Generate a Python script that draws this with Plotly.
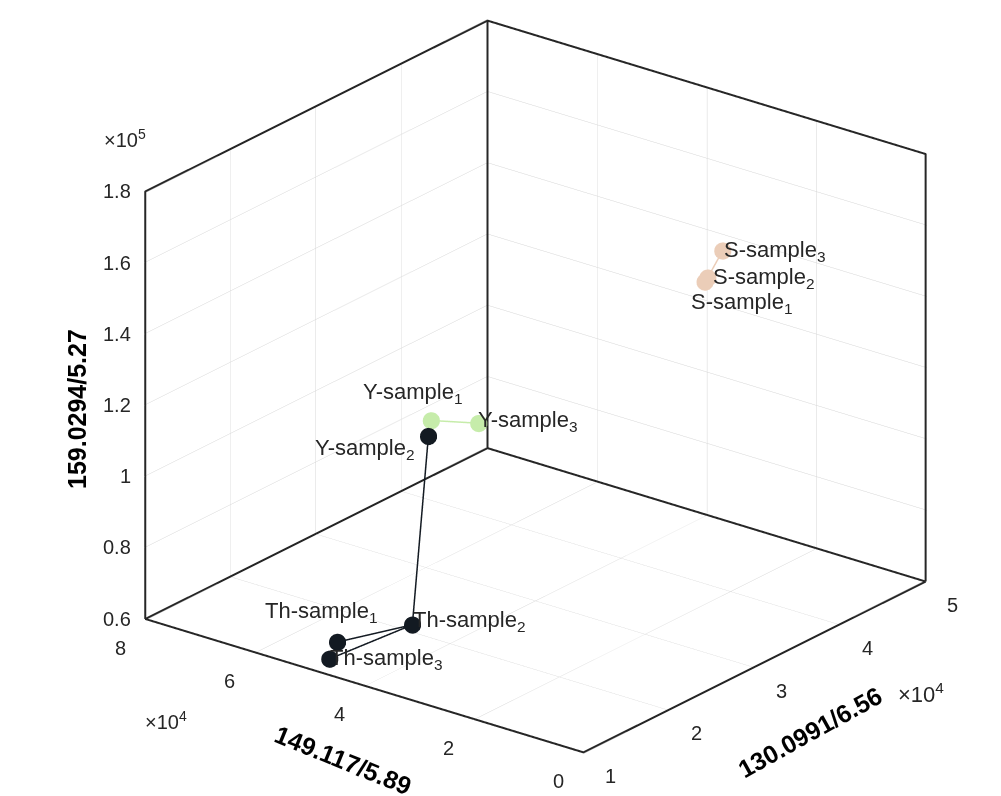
import plotly.graph_objects as go

# ---- data ----
th_names = ["Th-sample<sub>1</sub>", "Th-sample<sub>2</sub>", "Th-sample<sub>3</sub>"]
th_x = [11000, 15800, 10800]
th_y = [46500, 40300, 47600]
th_z = [68000, 70000, 63000]

y_names = ["Y-sample<sub>1</sub>", "Y-sample<sub>3</sub>"]
y_x = [30800, 32500]
y_y = [60300, 54300]
y_z = [100000, 100000]

y2_name = "Y-sample<sub>2</sub>"
y2_x = [25800]
y2_y = [53000]
y2_z = [105000]

s_names = ["S-sample<sub>1</sub>", "S-sample<sub>2</sub>", "S-sample<sub>3</sub>"]
s_x = [37700, 37900, 39900]
s_y = [21100, 20900, 21300]
s_z = [149000, 150000, 155000]

x_range = [10000, 50000]
y_range = [0, 80000]
z_range = [60000, 180000]
x_ticks = [10000, 20000, 30000, 40000, 50000]
x_ticktext = ["1", "2", "3", "4", "5"]
y_ticks = [0, 20000, 40000, 60000, 80000]
y_ticktext = ["0", "2", "4", "6", "8"]
z_ticks = [60000, 80000, 100000, 120000, 140000, 160000, 180000]
z_ticktext = ["0.6", "0.8", "1", "1.2", "1.4", "1.6", "1.8"]

# label pixel offsets (xshift, yshift)
th_shift = [(-74, 30), (-1, 3), (-2, 0)]
y_shift = [(-70, 27), (-3, 2)]
y2_shift = (-115, -13)
s_shift = [(-16, -21), (3, 0), (-1, 0)]

BLACK = "#131a22"
GREEN = "#c6ecaa"
PEACH = "#ebcdb8"
TXT = "#262626"
FONT = "Liberation Sans, Arial, sans-serif"
LBL = 22
TICK = 20
K = 1.493

fig = go.Figure()
fig.add_trace(go.Scatter3d(x=th_x, y=th_y, z=th_z, mode="lines+markers",
                           line=dict(color=BLACK, width=3),
                           marker=dict(color=BLACK, size=10, line=dict(width=0))))
fig.add_trace(go.Scatter3d(x=[th_x[1], y2_x[0]], y=[th_y[1], y2_y[0]], z=[th_z[1], y2_z[0]],
                           mode="lines+markers", line=dict(color=BLACK, width=3),
                           marker=dict(color=BLACK, size=10, line=dict(width=0))))
fig.add_trace(go.Scatter3d(x=y_x, y=y_y, z=y_z, mode="lines+markers",
                           line=dict(color=GREEN, width=3),
                           marker=dict(color=GREEN, size=10, line=dict(width=0))))
fig.add_trace(go.Scatter3d(x=s_x, y=s_y, z=s_z, mode="lines+markers",
                           line=dict(color=PEACH, width=3),
                           marker=dict(color=PEACH, size=10, line=dict(width=0))))

# box frame edges (from the axis ranges)
x0, x1 = x_range
y0, y1 = y_range
z0, z1 = z_range
fx = [x0, x0, x1, x1, x1, None, x1, x0, x0, x1, x1, None, x1, x1]
fy = [y1, y1, y1, y0, y0, None, y0, y0, y1, y1, y0, None, y1, y1]
fz = [z0, z1, z1, z1, z0, None, z0, z0, z0, z0, z0, None, z0, z1]
fig.add_trace(go.Scatter3d(x=fx, y=fy, z=fz, mode="lines",
                           line=dict(color=TXT, width=4), hoverinfo="skip"))

annots = []
def add_labels(names, xs, ys, zs, shifts, size=LBL, anchor="left"):
    for n, a, b, c, sh in zip(names, xs, ys, zs, shifts):
        annots.append(dict(x=a, y=b, z=c, text=n, showarrow=False, xanchor=anchor,
                           yanchor="middle", xshift=sh[0], yshift=sh[1],
                           font=dict(family=FONT, size=size, color=TXT)))

add_labels(th_names, th_x, th_y, th_z, th_shift)
add_labels(y_names, y_x, y_y, y_z, y_shift)
add_labels([y2_name], y2_x, y2_y, y2_z, [y2_shift])
add_labels(s_names, s_x, s_y, s_z, s_shift)

# tick labels, screen-aligned, positioned at the ticks in data space
add_labels(x_ticktext, x_ticks, [y0] * len(x_ticks), [z0] * len(x_ticks),
           [(27, -24)] * len(x_ticks), TICK, "center")
add_labels(y_ticktext, [x0] * len(y_ticks), y_ticks, [z0] * len(y_ticks),
           [(-25, -29)] * len(y_ticks), TICK, "center")
add_labels(z_ticktext, [x0] * len(z_ticks), [y1] * len(z_ticks), z_ticks,
           [(-12, 0)] * len(z_ticks), TICK, "right")

def padded(r, f=0.0015):
    d = (r[1] - r[0]) * f
    return [r[0] - d, r[1] + d]

axis_common = dict(showbackground=False, gridcolor="#d6d6d6", gridwidth=1,
                   showline=False, ticks="", showticklabels=False,
                   zeroline=False, showspikes=False, title=dict(text=""))

fig.update_layout(
    width=1001, height=796, paper_bgcolor="white", showlegend=False,
    margin=dict(l=0, r=0, t=0, b=0),
    scene=dict(
        domain=dict(x=[0.054, 1.0], y=[0.0557, 0.9937]),
        # grid only at inner ticks; the box edges come from the frame trace
        xaxis=dict(range=padded(x_range), tickvals=x_ticks[1:-1], **axis_common),
        yaxis=dict(range=padded(y_range), tickvals=y_ticks[1:-1], **axis_common),
        zaxis=dict(range=padded(z_range), tickvals=z_ticks[1:-1], **axis_common),
        aspectmode="manual", aspectratio=dict(x=K, y=K, z=0.835 * K),
        camera=dict(eye=dict(x=-0.726 * 1.6, y=-0.567 * 1.6, z=0.390 * 1.6),
                    center=dict(x=0, y=0, z=0), up=dict(x=0, y=0, z=1),
                    projection=dict(type="orthographic")),
        annotations=annots,
    ),
)

def pa(px, py, text, angle=0, size=TICK, bold=False, xanchor="center"):
    fig.add_annotation(x=px / 1001, y=1 - py / 796, xref="paper", yref="paper",
                       text=f"<b>{text}</b>" if bold else text, textangle=angle,
                       showarrow=False, xanchor=xanchor, yanchor="middle",
                       font=dict(family=FONT, size=size, color="black" if bold else TXT))

pa(94, 131, "×10<sup>5</sup>", xanchor="left")
pa(135, 712, "×10<sup>4</sup>", xanchor="left")
pa(888, 685, "×10<sup>4</sup>", xanchor="left", size=22)
pa(335, 752, "149.117/5.89", angle=22, size=25, bold=True)
pa(802, 724, "130.0991/6.56", angle=-29, size=25, bold=True)
pa(69, 401, "159.0294/5.27", angle=-90, size=25, bold=True)

fig.write_html("out.html")
